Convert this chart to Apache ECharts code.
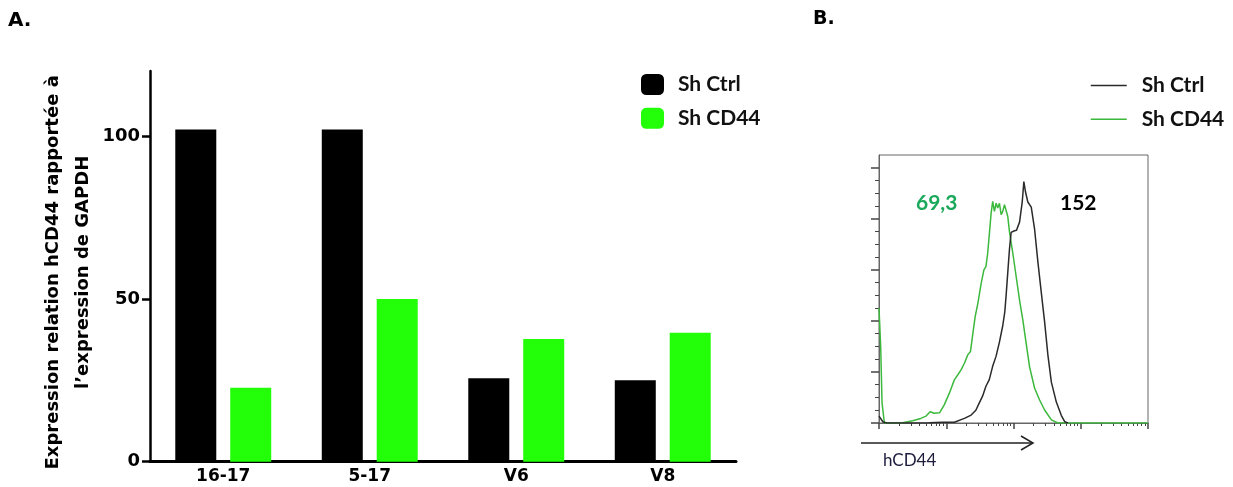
<!DOCTYPE html>
<html>
<head>
<meta charset="utf-8">
<script src="https://cdn.jsdelivr.net/npm/echarts@6/dist/echarts.min.js"></script>
<style>
html,body{margin:0;padding:0;background:#fff;}
#c{width:1233px;height:487px;}
</style>
</head>
<body>
<div id="c"></div>
<script>
// ---------- Panel A data ----------
const categories = ['16-17', '5-17', 'V6', 'V8'];
const shCtrl = [102, 102, 25.6, 25];
const shCD44 = [22.7, 50, 37.7, 39.6];
const barYTicks = [0, 50, 100];

// ---------- Panel B data (x in log decades, y in % of max) ----------
const histCtrlX = [0, 0.06, 0.12, 0.5, 0.75, 0.94, 1.12, 1.27, 1.37, 1.44, 1.49, 1.54, 1.59, 1.64, 1.69, 1.74, 1.79, 1.84, 1.87, 1.89, 1.915, 1.94, 1.965, 2.015, 2.045, 2.09, 2.13, 2.154, 2.179, 2.213, 2.264, 2.313, 2.363, 2.413, 2.463, 2.512, 2.563, 2.637, 2.712, 2.761, 2.81];
const histCtrlY = [2.7, 0.4, 0, 0, 0.1, 0.3, 0.3, 1.8, 3.1, 5.0, 7.8, 10.5, 14.4, 17.0, 22.2, 26.1, 31.6, 38.1, 43.4, 49.9, 59.0, 68.1, 74.7, 75.3, 75.5, 78.7, 86.6, 94.6, 90.5, 86.6, 84.6, 76.1, 63.0, 51.2, 39.5, 26.5, 16.0, 8.2, 2.9, 0.5, 0];
const histCD44X = [0, 0.025, 0.045, 0.08, 0.35, 0.5, 0.62, 0.7, 0.76, 0.82, 0.9, 0.97, 1.045, 1.12, 1.17, 1.22, 1.27, 1.32, 1.36, 1.39, 1.43, 1.47, 1.52, 1.56, 1.59, 1.616, 1.642, 1.667, 1.691, 1.716, 1.742, 1.766, 1.791, 1.816, 1.84, 1.866, 1.891, 1.915, 1.94, 1.99, 2.04, 2.09, 2.139, 2.189, 2.239, 2.313, 2.388, 2.463, 2.563, 2.66, 4];
const histCD44Y = [45, 30, 8, 0, 0.1, 0.9, 1.8, 2.7, 4.4, 3.8, 4.0, 7.1, 11.6, 16.9, 18.8, 20.8, 23.4, 26.7, 28.0, 33.9, 41.7, 46.9, 54.8, 60.0, 61.3, 66.5, 74.4, 82.2, 86.8, 82.9, 86.1, 84.2, 86.1, 81.6, 82.9, 85.5, 84.8, 80.9, 75, 66.5, 57.3, 48.1, 40.3, 31.1, 22.0, 13.7, 9.0, 5.1, 1.2, 0, 0];
const histXMajorTicks = [0, 1, 2, 3, 4];
const histYMajorTicks = [0, 20, 40, 60, 80, 100];
const histYMinorTicks = [5, 10, 15, 25, 30, 35, 45, 50, 55, 65, 70, 75, 85, 90, 95];
const logSubSteps = [2, 3, 4, 5, 6, 7, 8, 9];
const histMFI = { ctrl: '152', cd44: '69,3' };

// minor log ticks for each decade
const histXMinorTicks = [];
for (let d = 0; d < 4; d++) logSubSteps.forEach(k => histXMinorTicks.push(d + Math.log10(k)));

const zip = (xs, ys) => xs.map((x, i) => [x, ys[i]]);

const chart = echarts.init(document.getElementById('c'), null, { renderer: 'canvas' });

const numFont = 'DejaVu Sans';
const legFont = 'Lato';
const tickCol = '#444';

chart.setOption({
  animation: false,
  backgroundColor: '#fff',
  grid: [
    { left: 150, top: 71, width: 586, height: 390.7, containLabel: false },
    { left: 879, top: 155, width: 269, height: 268, show: true, borderColor: '#666', borderWidth: 1, backgroundColor: 'transparent' }
  ],
  legend: [
    {
      data: ['Sh Ctrl', 'Sh CD44'], orient: 'vertical', left: 636, top: 69,
      itemWidth: 23, itemHeight: 21, itemGap: 12.7, icon: 'roundRect',
      textStyle: { fontFamily: legFont, fontWeight: 'bold', fontSize: 21, color: '#111', padding: [0, 0, 0, 9] },
      selectedMode: false
    },
    {
      data: ['B:Sh Ctrl', 'B:Sh CD44'], orient: 'vertical', left: 1085, top: 70,
      itemWidth: 36, itemHeight: 14, itemGap: 12.8,
      formatter: n => n.replace('B:', ''),
      itemStyle: { opacity: 0 },
      lineStyle: { opacity: 1, width: 1.5 },
      textStyle: { fontFamily: legFont, fontWeight: 'bold', fontSize: 21, color: '#111', padding: [0, 0, 0, 10] },
      selectedMode: false
    }
  ],
  xAxis: [
    {
      type: 'category', gridIndex: 0, data: categories,
      axisLine: { lineStyle: { color: '#000', width: 3 } },
      axisTick: { show: false },
      axisLabel: { fontFamily: numFont, fontWeight: 'bold', fontSize: 17, color: '#000', margin: 6 }
    },
    {
      type: 'value', gridIndex: 1, min: 0, max: 4, position: 'bottom',
      axisLine: { show: true, onZero: false, lineStyle: { color: '#666', width: 1 } },
      axisTick: { show: true, customValues: histXMajorTicks, length: 6, lineStyle: { color: tickCol, width: 1.5 } },
      axisLabel: { show: false },
      splitLine: { show: false }
    },
    {
      type: 'value', gridIndex: 1, min: 0, max: 4, position: 'bottom',
      axisLine: { show: false },
      axisTick: { show: true, customValues: histXMinorTicks, length: 3, lineStyle: { color: tickCol, width: 1 } },
      axisLabel: { show: false },
      splitLine: { show: false }
    }
  ],
  yAxis: [
    {
      type: 'value', gridIndex: 0, min: 0, max: 120,
      name: 'Expression relation hCD44 rapportée à\nl\u2019expression de GAPDH',
      nameLocation: 'middle', nameRotate: 90, nameGap: 52,
      nameTextStyle: { fontFamily: numFont, fontWeight: 'bold', fontSize: 18, lineHeight: 30, color: '#000', align: 'center', padding: [0, 12, 0, 0] },
      axisLine: { show: true, lineStyle: { color: '#000', width: 2.5 } },
      axisTick: { show: true, customValues: barYTicks, length: 8, lineStyle: { color: '#000', width: 2.5 } },
      axisLabel: { customValues: barYTicks, fontFamily: numFont, fontWeight: 'bold', fontSize: 18, color: '#000', margin: 10 },
      splitLine: { show: false }
    },
    {
      type: 'value', gridIndex: 1, min: 0, max: 105, position: 'left',
      axisLine: { show: true, lineStyle: { color: '#666', width: 1 } },
      axisTick: { show: true, customValues: histYMajorTicks, length: 8, lineStyle: { color: tickCol, width: 1.5 } },
      axisLabel: { show: false },
      splitLine: { show: false }
    },
    {
      type: 'value', gridIndex: 1, min: 0, max: 105, position: 'left',
      axisLine: { show: false },
      axisTick: { show: true, customValues: histYMinorTicks, length: 4, lineStyle: { color: tickCol, width: 1 } },
      axisLabel: { show: false },
      splitLine: { show: false }
    }
  ],
  series: [
    {
      name: 'Sh Ctrl', type: 'bar', xAxisIndex: 0, yAxisIndex: 0, data: shCtrl,
      barWidth: 41, barGap: '34%', itemStyle: { color: '#000' }
    },
    {
      name: 'Sh CD44', type: 'bar', xAxisIndex: 0, yAxisIndex: 0, data: shCD44,
      barWidth: 41, barGap: '34%', itemStyle: { color: '#22ff08' }
    },
    {
      name: 'B:Sh Ctrl', type: 'line', xAxisIndex: 1, yAxisIndex: 1, data: zip(histCtrlX, histCtrlY),
      symbol: 'none', smooth: false, lineStyle: { color: '#2a2a2a', width: 1.5 }, itemStyle: { color: '#2a2a2a' },
      z: 4
    },
    {
      name: 'B:Sh CD44', type: 'line', xAxisIndex: 1, yAxisIndex: 1, data: zip(histCD44X, histCD44Y),
      symbol: 'none', smooth: false, lineStyle: { color: '#3cb83c', width: 1.5 }, itemStyle: { color: '#3cb83c' },
      z: 3
    }
  ],
  graphic: [
    { type: 'text', left: 8, top: 11, style: { text: 'A.', font: 'bold 20px "DejaVu Sans"', fill: '#000' } },
    { type: 'text', left: 813, top: 10, style: { text: 'B.', font: 'bold 19px "DejaVu Sans"', fill: '#000' } },
    { type: 'text', left: 916, top: 193, style: { text: histMFI.cd44, font: 'bold 21px Lato', fill: '#1aa85a' } },
    { type: 'text', left: 1060, top: 193, style: { text: histMFI.ctrl, font: 'bold 21px Lato', fill: '#000' } },
    { type: 'text', left: 883, top: 452, style: { text: 'hCD44', font: '17px Lato', fill: '#1c1c3c' } },
    { type: 'polyline', shape: { points: [[861, 443], [1033, 443]] }, style: { stroke: '#222', lineWidth: 1.5, fill: null } },
    { type: 'polyline', shape: { points: [[1021, 436], [1033, 443], [1021, 450]] }, style: { stroke: '#222', lineWidth: 1.5, fill: null } }
  ]
});
</script>
</body>
</html>
